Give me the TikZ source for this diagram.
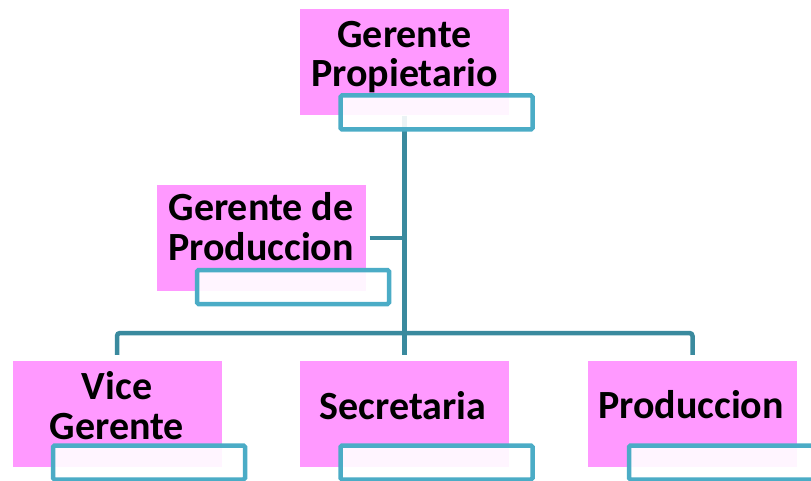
\documentclass[tikz,border=0pt]{standalone}
\usepackage{fontspec}
\setmainfont{Carlito}
\usetikzlibrary{calc}
\definecolor{pinkfill}{HTML}{FF99FF}
\definecolor{boxborder}{HTML}{4BACC6}
\definecolor{linecol}{HTML}{3A8A9E}
\tikzset{
  pinkbox/.style={fill=pinkfill, draw=none, inner sep=0pt, minimum width=209pt, minimum height=106pt},
  subbox/.style={fill=white, fill opacity=0.9, draw=boxborder, draw opacity=1, line width=4.5pt, rounded corners=1.5pt, inner sep=0pt, minimum width=192pt, minimum height=34pt},
  conn/.style={draw=linecol, line width=4.5pt},
  label/.style={font=\bfseries\fontsize{40}{39.5}\selectfont, align=center, text=black, inner sep=0pt}
}
\begin{document}
\begin{tikzpicture}[x=1pt,y=-1pt]
\useasboundingbox (0,0) rectangle (811,481);
\clip (0,0) rectangle (811,481);
% pink boxes
\node[pinkbox] (p1) at (404.5,62.5) {};
\node[pinkbox] (p2) at (261,238) {};
\node[pinkbox] (p3) at (117,414) {};
\node[pinkbox] (p4) at (404.5,414) {};
\node[pinkbox] (p5) at (692.5,414) {};
% connectors
\coordinate (bus) at (404.5,333);
\draw[conn] (p1.south) -- ([yshift=6pt]p4.north);
\draw[conn, rounded corners=3pt] ([yshift=6pt]p3.north) |- (bus) -| ([yshift=6pt]p5.north);
\draw[conn] ([xshift=4pt]p2.east) -- (p2.east -| p1.south);
% texts
\node[label] (t1) at (404.5,57) {Gerente\\Propietario};
\node[label] (t2) at (261,226.5) {Gerente de\\Produccion};
\node[label] (t3) at (117,405.5) {Vice\\Gerente};
\node[label] (t4) at (403,405.5) {Secretaria};
\node[label] (t5) at (691,405) {Produccion};
% sub boxes
\node[subbox] (w1) at (436.5,112.5) {};
\node[subbox] (w2) at (293,287) {};
\node[subbox] (w3) at (149,462.5) {};
\node[subbox] (w4) at (436.5,462.5) {};
\node[subbox] (w5) at (725,462.5) {};
\end{tikzpicture}
\end{document}
